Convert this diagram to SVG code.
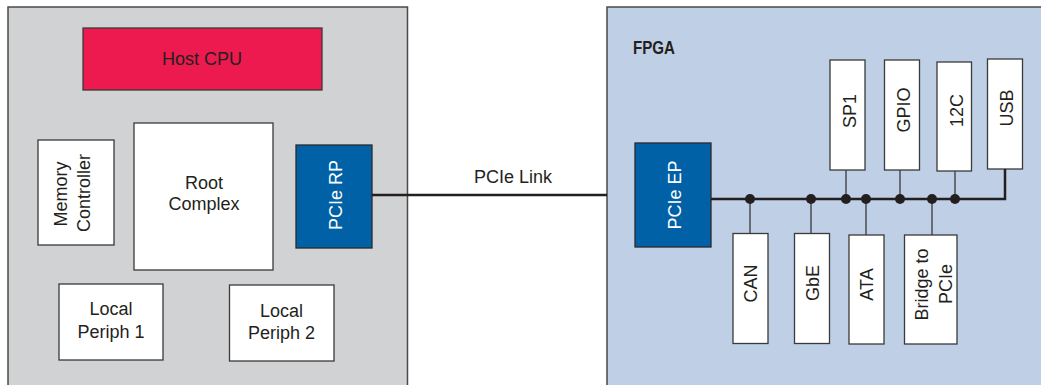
<svg xmlns="http://www.w3.org/2000/svg" width="1041" height="385" viewBox="0 0 1041 385">
<style>
text{font-family:"Liberation Sans",Arial,sans-serif;font-size:18px;fill:#231f20;text-anchor:middle}
.box{fill:#ffffff;stroke:#3a3a3a;stroke-width:1.3}
.blue{fill:#0061a6;stroke:#2a2a2a;stroke-width:1.3}
.w{fill:#ffffff}
.bus{stroke:#231f20;stroke-width:2.5;fill:none}
.stub{stroke:#3a3a3a;stroke-width:1.3;fill:none}
.dot{fill:#231f20}
</style>
<rect width="1041" height="385" fill="#ffffff"/>
<g id="host-system">
<rect x="8" y="7" width="399.5" height="390" fill="#d1d2d4" stroke="#4a4a4a" stroke-width="1.5"/>
</g>
<g id="fpga">
<rect x="607" y="7" width="450" height="390" fill="#bfcfe5" stroke="#4a4a4a" stroke-width="1.5"/>
<text x="654" y="54" style="font-weight:bold;font-size:17.5px;font-family:'Liberation Sans Narrow','Liberation Sans',sans-serif;font-stretch:condensed" textLength="42" lengthAdjust="spacingAndGlyphs">FPGA</text>
</g>
<g id="host-cpu">
<rect x="83" y="28" width="239" height="62" fill="#ec1a4f" stroke="#3a3a3a" stroke-width="1.3"/>
<text x="202" y="65">Host CPU</text>
</g>
<g id="root-complex">
<rect class="box" x="134" y="123" width="139" height="147"/>
<text x="204" y="189">Root</text>
<text x="204" y="210">Complex</text>
</g>
<g id="memory-controller">
<rect class="box" x="38" y="140" width="76" height="105"/>
<text transform="translate(67,194) rotate(-90)">Memory</text>
<text transform="translate(89.5,193) rotate(-90)">Controller</text>
</g>
<g id="pcie-rp">
<rect class="blue" x="296" y="145" width="76" height="103"/>
<text class="w" transform="translate(342,195) rotate(-90)">PCIe RP</text>
</g>
<g id="local-periph-1">
<rect class="box" x="59" y="284" width="104" height="76"/>
<text x="111" y="315">Local</text>
<text x="111" y="337.5">Periph 1</text>
</g>
<g id="local-periph-2">
<rect class="box" x="229.5" y="285" width="104.5" height="76"/>
<text x="281.5" y="317">Local</text>
<text x="281.5" y="339">Periph 2</text>
</g>
<g id="pcie-ep">
<rect class="blue" x="635" y="143" width="76" height="104"/>
<text class="w" transform="translate(681,195) rotate(-90)">PCIe EP</text>
</g>
<g id="sp1">
<rect class="box" x="830" y="60" width="35" height="110"/>
<text transform="translate(856,111) rotate(-90)">SP1</text>
</g>
<g id="gpio">
<rect class="box" x="884.5" y="60" width="35" height="110"/>
<text transform="translate(910,110) rotate(-90)">GPIO</text>
</g>
<g id="i2c">
<rect class="box" x="937" y="62" width="34.5" height="109"/>
<text transform="translate(963,110.5) rotate(-90)">12C</text>
</g>
<g id="usb">
<rect class="box" x="987.5" y="59" width="35" height="110"/>
<text transform="translate(1012.5,108) rotate(-90)">USB</text>
</g>
<g id="can">
<rect class="box" x="733" y="233.5" width="35" height="110"/>
<text transform="translate(757,283.5) rotate(-90)">CAN</text>
</g>
<g id="gbe">
<rect class="box" x="794.5" y="233.5" width="35" height="110"/>
<text transform="translate(819,283) rotate(-90)">GbE</text>
</g>
<g id="ata">
<rect class="box" x="849" y="235" width="35" height="109"/>
<text transform="translate(873,284.5) rotate(-90)">ATA</text>
</g>
<g id="bridge-to-pcie">
<rect class="box" x="904.5" y="235" width="52.5" height="109"/>
<text transform="translate(928,284.5) rotate(-90)">Bridge to</text>
<text transform="translate(952,284) rotate(-90)">PCIe</text>
</g>
<g id="connectors">
<line class="bus" x1="372" y1="195" x2="607" y2="195"/>
<text x="513" y="183">PCIe Link</text>
<polyline class="bus" points="711,199 1005,199 1005,169"/>
<line class="stub" x1="750" y1="199" x2="750" y2="233.5"/>
<line class="stub" x1="811" y1="199" x2="811" y2="233.5"/>
<line class="stub" x1="846" y1="170" x2="846" y2="199"/>
<line class="stub" x1="866" y1="199" x2="866" y2="235"/>
<line class="stub" x1="900" y1="170" x2="900" y2="199"/>
<line class="stub" x1="932" y1="199" x2="932" y2="235"/>
<line class="stub" x1="955" y1="171" x2="955" y2="199"/>
<circle class="dot" cx="750" cy="199" r="5"/>
<circle class="dot" cx="811" cy="199" r="5"/>
<circle class="dot" cx="846" cy="199" r="5"/>
<circle class="dot" cx="866" cy="199" r="5"/>
<circle class="dot" cx="900" cy="199" r="5"/>
<circle class="dot" cx="932" cy="199" r="5"/>
<circle class="dot" cx="955" cy="199" r="5"/>
</g>
</svg>
